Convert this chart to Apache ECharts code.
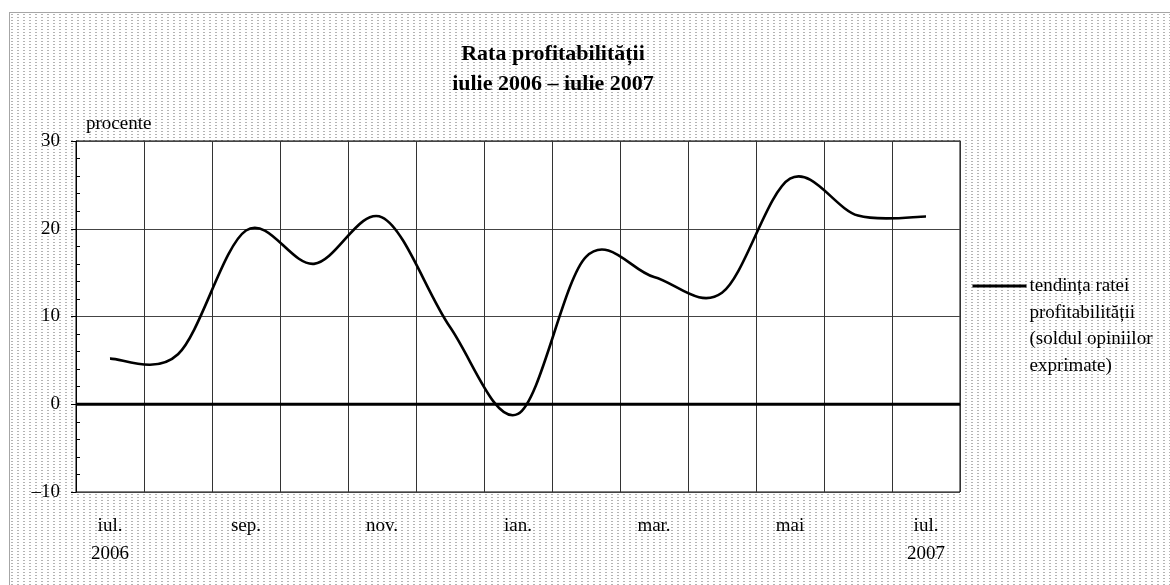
<!DOCTYPE html>
<html>
<head>
<meta charset="utf-8">
<script src="https://cdn.jsdelivr.net/npm/echarts@6/dist/echarts.min.js"></script>
<style>
  html, body { margin: 0; padding: 0; background: #fff; }
  #frame { position: absolute; left: 9px; top: 12px; width: 1160px; height: 572px;
           border-left: 1px solid #a6a6a6; border-top: 1px solid #a6a6a6; }
  #chart { width: 1160px; height: 572px; }
</style>
</head>
<body>
<div id="frame"><div id="chart"></div></div>
<script>
// months jul 2006 .. jul 2007, only every other one is labelled
const months = ['iul.\n2006', 'aug.', 'sep.', 'oct.', 'nov.', 'dec.', 'ian.',
  'feb.', 'mar.', 'apr.', 'mai', 'iun.', 'iul.\n2007'];
const profitTrend = [5.2, 5.7, 19.8, 16.0, 21.3, 8.8, -1.1, 16.8, 14.5, 12.7, 25.7, 21.5, 21.4];
const legendText = 'tendința ratei\nprofitabilității\n(soldul opiniilor\nexprimate)';

const serif = '"Liberation Serif", "Times New Roman", serif';

// Excel style dotted fill behind the plot
const tile = document.createElement('canvas');
tile.width = 6; tile.height = 3;
const tctx = tile.getContext('2d');
tctx.fillStyle = '#fff';
tctx.fillRect(0, 0, 6, 3);
tctx.fillStyle = '#b4b4b4';
tctx.fillRect(1, 1, 2, 1);

// whole curve drawn once, as an Excel-like smoothed (catmull-rom) bezier
// through the points placed by the axes
function renderTrend(params, api) {
  if (params.dataIndex !== 0) return null;
  const pts = profitTrend.map((v, i) => api.coord([i, v]));
  const n = pts.length;
  let d = 'M' + pts[0][0] + ',' + pts[0][1];
  for (let i = 0; i < n - 1; i++) {
    const p0 = pts[Math.max(i - 1, 0)], p1 = pts[i], p2 = pts[i + 1], p3 = pts[Math.min(i + 2, n - 1)];
    const c1x = p1[0] + (p2[0] - p0[0]) / 6, c1y = p1[1] + (p2[1] - p0[1]) / 6;
    const c2x = p2[0] - (p3[0] - p1[0]) / 6, c2y = p2[1] - (p3[1] - p1[1]) / 6;
    d += 'C' + c1x + ',' + c1y + ',' + c2x + ',' + c2y + ',' + p2[0] + ',' + p2[1];
  }
  const cs = params.coordSys;
  const y0 = api.coord([0, 0])[1];
  return {
    type: 'group',
    children: [
      { type: 'line', shape: { x1: cs.x, y1: y0, x2: cs.x + cs.width, y2: y0 },
        style: { stroke: '#000', lineWidth: 3 } },
      { type: 'path', shape: { pathData: d },
        style: { stroke: '#000', lineWidth: 2.6, fill: null, lineJoin: 'round' } }
    ]
  };
}

const chart = echarts.init(document.getElementById('chart'));
chart.setOption({
  backgroundColor: { image: tile, repeat: 'repeat' },
  animation: false,
  textStyle: { fontFamily: serif, color: '#000' },
  title: {
    text: 'Rata profitabilității\niulie 2006 – iulie 2007',
    left: 543, top: 26, padding: 0, textAlign: 'center',
    textStyle: { fontFamily: serif, fontSize: 22, fontWeight: 'bold', lineHeight: 30, color: '#000' }
  },
  grid: {
    left: 66, top: 128, width: 884, height: 351,
    show: true, backgroundColor: '#fff', borderColor: '#000', borderWidth: 1
  },
  xAxis: {
    type: 'category', data: months, boundaryGap: true,
    axisLine: { lineStyle: { color: '#000', width: 1 } },
    axisTick: { show: false },
    axisLabel: { interval: 1, margin: 20, fontFamily: serif, fontSize: 19, lineHeight: 28, color: '#000' },
    splitLine: { show: true, interval: 0, lineStyle: { color: '#333', width: 1 } }
  },
  yAxis: {
    type: 'value', min: -10, max: 30, interval: 10,
    name: 'procente', nameLocation: 'end', nameGap: 7,
    nameTextStyle: { fontFamily: serif, fontSize: 19, color: '#000', align: 'left', padding: [0, 0, 0, 10] },
    axisLine: { show: true, lineStyle: { color: '#000', width: 1 } },
    axisTick: { show: true, length: 5, lineStyle: { color: '#000' } },
    minorTick: { show: true, splitNumber: 5, length: -4, lineStyle: { color: '#000' } },
    axisLabel: {
      margin: 16, fontFamily: serif, fontSize: 19, color: '#000',
      formatter: v => String(v).replace('-', '–')
    },
    splitLine: { show: true, lineStyle: { color: '#444', width: 1 } }
  },
  graphic: [{
    type: 'group', left: 960, top: 260,
    children: [
      { type: 'line', shape: { x1: 0, y1: 13, x2: 54, y2: 13 }, style: { stroke: '#000', lineWidth: 3 } },
      { type: 'text', x: 57, y: 0,
        style: { text: legendText, font: '19px ' + serif, lineHeight: 26.5, fill: '#000' } }
    ]
  }],
  series: [{
    name: 'tendința ratei profitabilității',
    type: 'custom',
    renderItem: renderTrend,
    data: profitTrend.map((v, i) => [i, v]),
    encode: { x: 0, y: 1 },
    z: 3
  }]
});
</script>
</body>
</html>
